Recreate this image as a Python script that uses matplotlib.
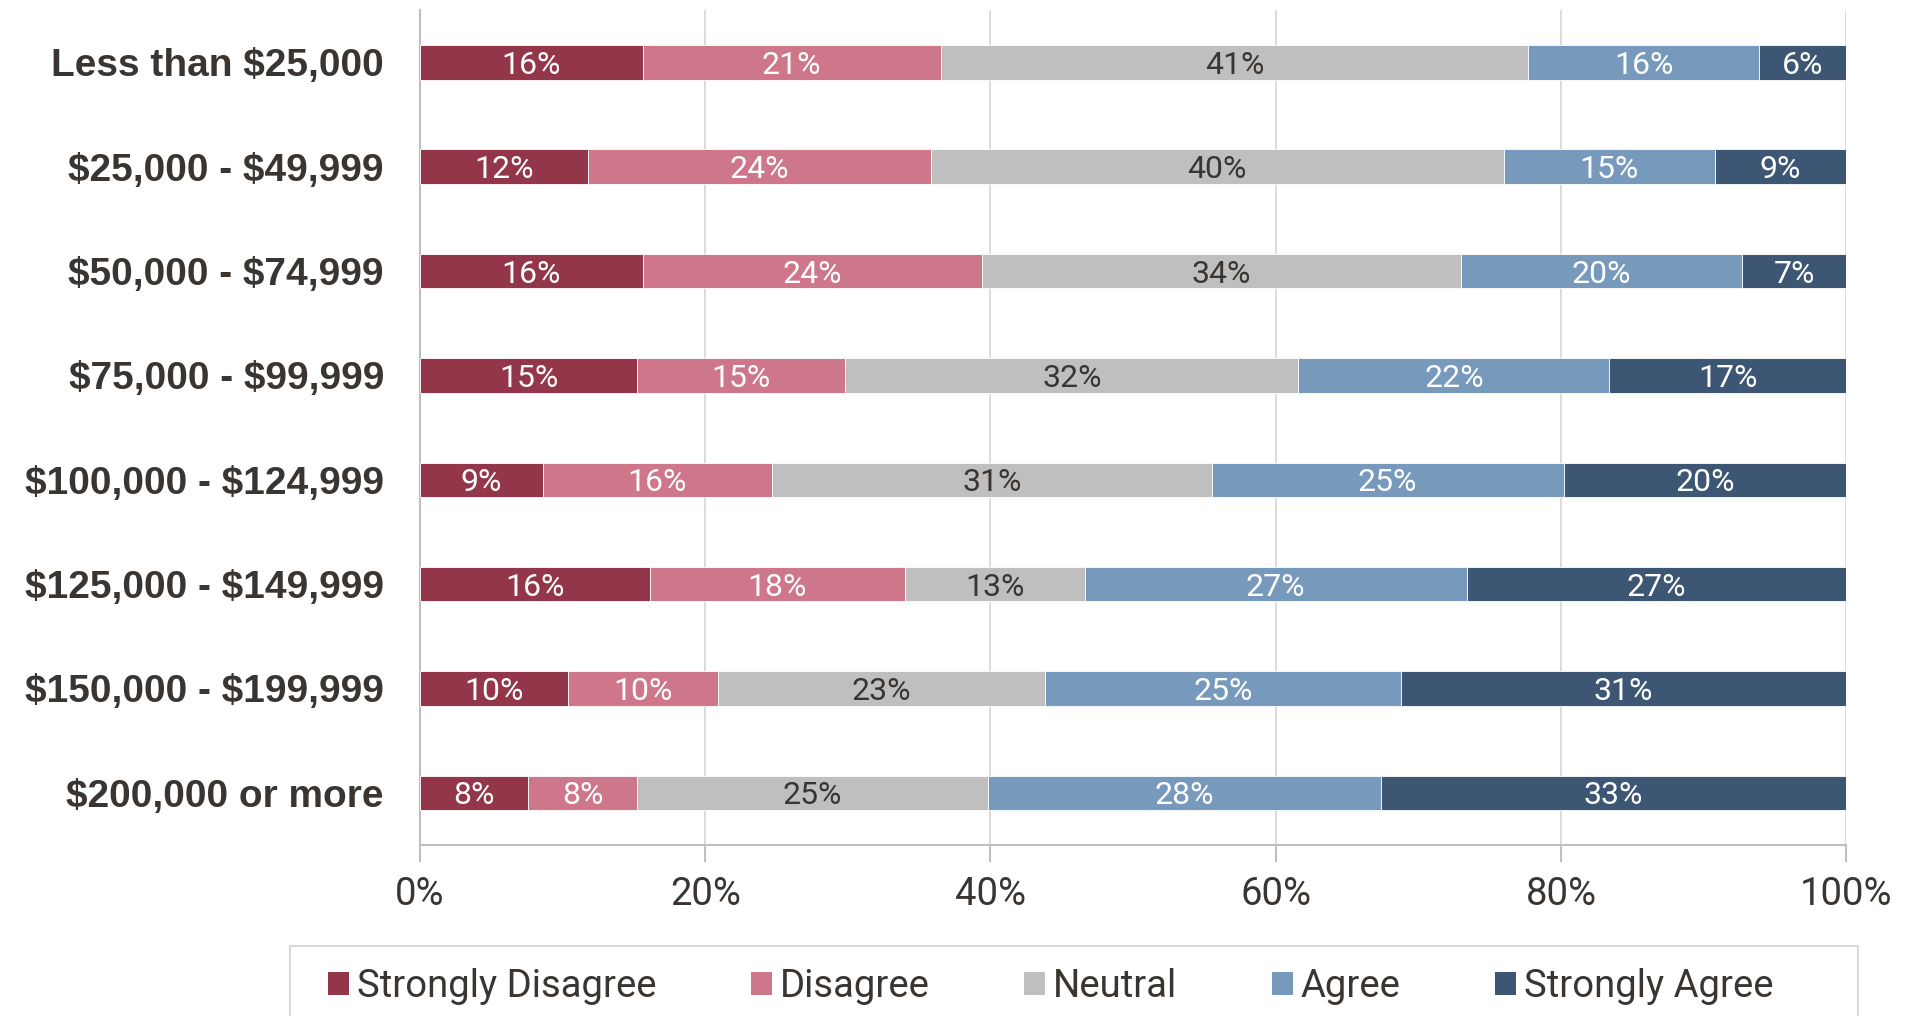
import matplotlib
matplotlib.use("Agg")
import matplotlib.pyplot as plt
from matplotlib.patches import Patch, Rectangle

# income brackets (top to bottom) and survey shares in percent
income = ['Less than $25,000', '$25,000 - $49,999', '$50,000 - $74,999',
          '$75,000 - $99,999', '$100,000 - $124,999', '$125,000 - $149,999',
          '$150,000 - $199,999', '$200,000 or more']
strongly_disagree = [15.6, 11.8, 15.6, 15.2, 8.6, 16.1, 10.4, 7.6]
disagree = [20.9, 24.0, 23.8, 14.6, 16.1, 17.9, 10.5, 7.6]
neutral = [41.2, 40.2, 33.6, 31.8, 30.8, 12.6, 22.9, 24.6]
agree = [16.2, 14.8, 19.7, 21.8, 24.7, 26.8, 25.0, 27.6]
strongly_agree = [6.1, 9.2, 7.3, 16.6, 19.8, 26.6, 31.2, 32.6]

series = ['Strongly Disagree', 'Disagree', 'Neutral', 'Agree', 'Strongly Agree']
colors = ['#943649', '#CE778A', '#BFBFBF', '#7799BC', '#3C5674']
label_colors = ['white', 'white', '#3A3530', 'white', 'white']
x_ticks = [0, 20, 40, 60, 80, 100]

plt.rcParams['text.parse_math'] = False  # keep the $ signs literal

TEXT = '#3A3530'
LIGHT = ['Roboto', 'DejaVu Sans']

fig = plt.figure(figsize=(19.19, 10.16), dpi=100)
ax = fig.add_axes([0.2189, 0.1683, 0.7431, 0.8217])

values = [strongly_disagree, disagree, neutral, agree, strongly_agree]
ypos = list(range(len(income)))
left = [0.0] * len(income)
for name, vals, col, lcol in zip(series, values, colors, label_colors):
    bars = ax.barh(ypos, vals, left=left, height=0.33, color=col,
                   edgecolor='white', linewidth=0.6, label=name, zorder=3)
    for b, v in zip(bars, vals):
        ax.text(b.get_x() + b.get_width() / 2, b.get_y() + b.get_height() / 2,
                '%.0f%%' % v, ha='center', va='center_baseline', color=lcol,
                fontsize=23, family=LIGHT, zorder=4)
    left = [l + v for l, v in zip(left, vals)]

ax.set_xlim(0, 100)
ax.set_ylim(len(income) - 0.5, -0.5)
ax.set_xticks(x_ticks)
ax.set_xticklabels(['%d%%' % t for t in x_ticks], family=LIGHT,
                   fontsize=27.5, color=TEXT)
ax.set_yticks(ypos)
ax.set_yticklabels(income, family=['Liberation Sans', 'DejaVu Sans'],
                   fontweight='bold', fontsize=28, color=TEXT)
ax.tick_params(axis='y', length=0, pad=26)
ax.tick_params(axis='x', length=12, width=1.5, color='#BFBFBF', pad=10)

ax.grid(axis='x', color='#D9D9D9', linewidth=1.3, zorder=0)
for s in ['top', 'right']:
    ax.spines[s].set_visible(False)
for s in ['left', 'bottom']:
    ax.spines[s].set_color('#BFBFBF')
    ax.spines[s].set_linewidth(1.5)

# legend frame runs off the bottom edge of the picture
fig.add_artist(Rectangle((0.1511, -0.02), 0.817, 0.0887, transform=fig.transFigure,
                         facecolor='none', edgecolor='#D9D9D9', linewidth=1.5))
handles = [Patch(facecolor=c, edgecolor='none') for c in colors]
leg = fig.legend(handles, series, loc='center left',
                 bbox_to_anchor=(0.1709, 0.029), ncol=5, frameon=False,
                 borderaxespad=0, borderpad=0, columnspacing=2.48,
                 handlelength=0.55, handleheight=0.55, handletextpad=0.2,
                 prop={'family': LIGHT, 'size': 27.5})
for t in leg.get_texts():
    t.set_color(TEXT)

fig.savefig('out.png', dpi=100)
